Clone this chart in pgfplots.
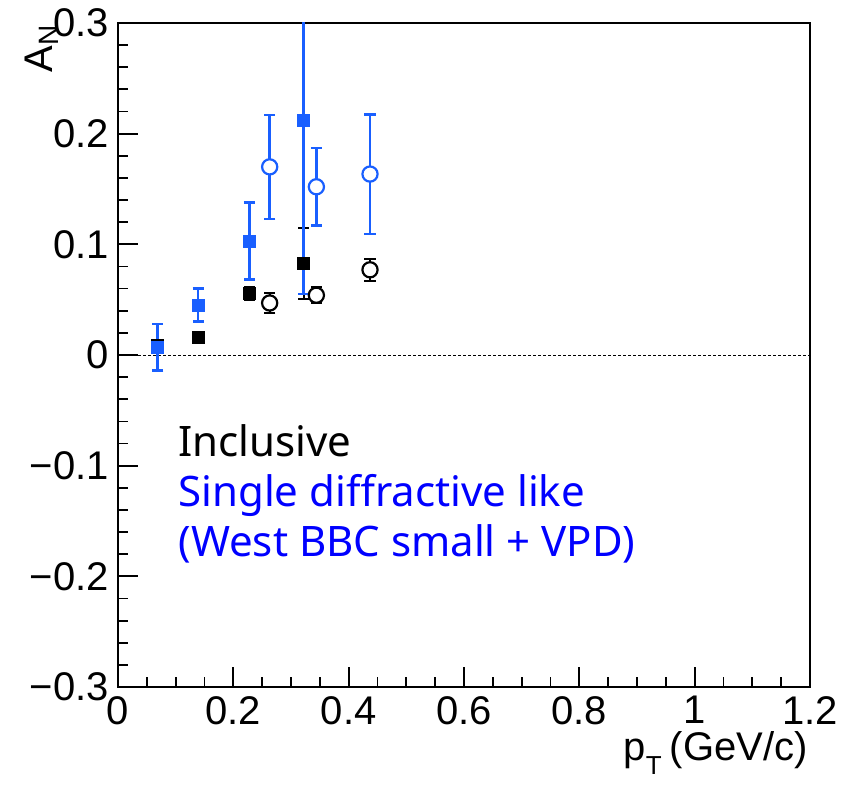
\documentclass[border=0pt]{standalone}
\usepackage{pgfplots}
\pgfplotsset{compat=1.18}
\usepackage{fontspec}
\setmainfont{Liberation Sans}
\newfontfamily\notefont{Noto Sans}
\definecolor{rootblue}{RGB}{25,95,255}
\definecolor{txtblue}{RGB}{0,0,255}
\begin{document}
\begin{tikzpicture}[x=1pt,y=1pt]
\path[use as bounding box] (0,0) rectangle (427,393.5);
\begin{axis}[at={(59pt,50pt)}, anchor=south west, scale only axis,
  width=346pt, height=332pt,
  xmin=0, xmax=1.2, ymin=-0.3, ymax=0.3,
  xtick={0,0.2,0.4,0.6,0.8,1,1.2},
  xticklabels={0,0.2,0.4,0.6,0.8,1,1.2},
  ytick={-0.3,-0.2,-0.1,0,0.1,0.2,0.3},
  yticklabels={−0.3,−0.2,−0.1,0,0.1,0.2,0.3},
  minor x tick num=3, minor y tick num=4,
  xtick pos=bottom, ytick pos=left,
  tick align=inside,
  major tick length=10pt, minor tick length=5pt,
  every tick/.style={black, line width=0.9pt},
  axis line style={line width=1.1pt},
  tick label style={font=\fontsize{20}{20}\selectfont},
  xticklabel style={yshift=-1pt},
  yticklabel style={xshift=-1pt},
  /pgf/number format/assume math mode=true,
  clip=true,
]
% zero line
\addplot[black, line width=0.5pt, dash pattern=on 1.5pt off 1pt] coordinates {(0,0) (1.2,0)};

% Inclusive, filled squares
\addplot[only marks, mark=square*, mark size=3pt, black,
  error bars/.cd, y dir=both, y explicit,
  error bar style={line width=1pt, black},
  error mark options={rotate=90, mark size=2.8pt, line width=1pt, black}]
  coordinates {
  (0.069,0.009) +- (0,0.003)
  (0.139,0.016) +- (0,0.003)
  (0.228,0.0555) +- (0,0.006)
  (0.322,0.083) +- (0,0.032)
  };
% Inclusive, open circles
\addplot[only marks, mark=*, mark size=3.8pt, black, mark options={fill=white, line width=1.1pt},
  error bars/.cd, y dir=both, y explicit,
  error bar style={line width=1pt, black},
  error mark options={rotate=90, mark size=2.8pt, line width=1pt, black}]
  coordinates {
  (0.263,0.047) +- (0,0.009)
  (0.344,0.054) +- (0,0.007)
  (0.437,0.077) +- (0,0.010)
  };
% Single diffractive, filled squares
\addplot[only marks, mark=square*, mark size=3pt, rootblue,
  error bars/.cd, y dir=both, y explicit,
  error bar style={line width=1.3pt, rootblue},
  error mark options={rotate=90, mark size=2.8pt, line width=1.3pt, rootblue}]
  coordinates {
  (0.069,0.007) +- (0,0.021)
  (0.139,0.045) +- (0,0.015)
  (0.228,0.103) +- (0,0.035)
  (0.322,0.212) +- (0,0.157)
  };
% Single diffractive, open circles
\addplot[only marks, mark=*, mark size=3.8pt, rootblue, mark options={fill=white, line width=1.1pt},
  error bars/.cd, y dir=both, y explicit,
  error bar style={line width=1.3pt, rootblue},
  error mark options={rotate=90, mark size=2.8pt, line width=1.3pt, rootblue}]
  coordinates {
  (0.263,0.170) +- (0,0.047)
  (0.344,0.152) +- (0,0.035)
  (0.437,0.1635) +- (0,0.054)
  };
\end{axis}
% axis titles
\node[rotate=90, anchor=base east, inner sep=0] at (26,381.5) {\fontsize{20}{20}\selectfont A\textsubscript{N}};
\node[anchor=north east, inner sep=0] at (404,28) {\fontsize{20}{20}\selectfont p\raisebox{-7pt}{\fontsize{13}{13}\selectfont T}\hspace{4pt}(GeV/c)};
% annotations
\node[anchor=base west, inner sep=0] at (89,165.2) {\notefont\fontsize{21}{21}\selectfont Inclusive};
\node[anchor=base west, inner sep=0, text=txtblue] at (89,140.2) {\notefont\fontsize{21}{21}\selectfont Single diffractive like};
\node[anchor=base west, inner sep=0, text=txtblue] at (89,115.2) {\notefont\fontsize{21}{21}\selectfont (West BBC small + VPD)};
\end{tikzpicture}
\end{document}
